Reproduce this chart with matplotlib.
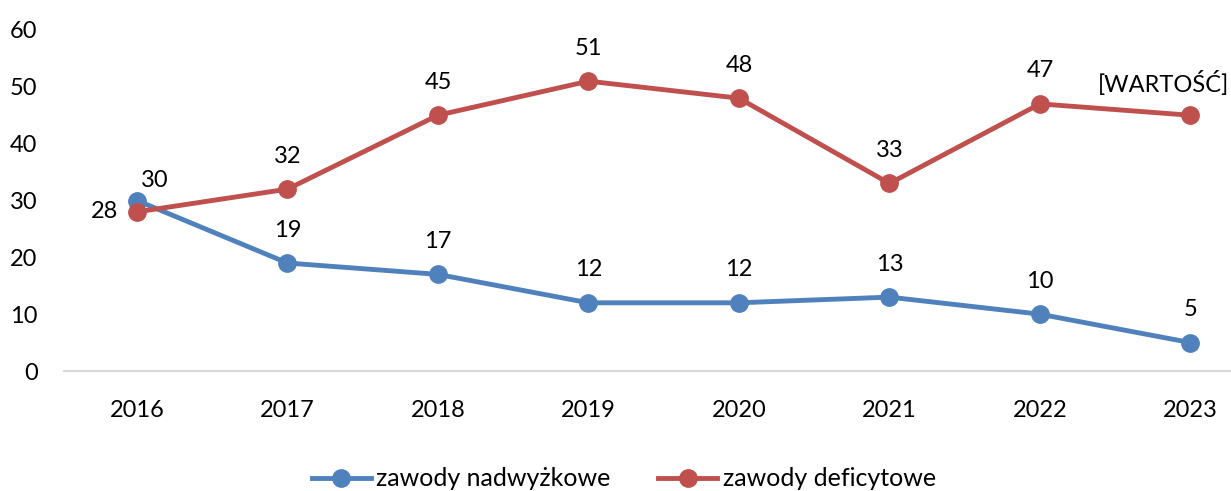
import matplotlib
matplotlib.use("Agg")
import matplotlib.pyplot as plt

years = ["2016", "2017", "2018", "2019", "2020", "2021", "2022", "2023"]
nadwyzkowe = [30, 19, 17, 12, 12, 13, 10, 5]
deficytowe = [28, 32, 45, 51, 48, 33, 47, 45]
def_labels = ["28", "32", "45", "51", "48", "33", "47", "[WARTOŚĆ]"]
nad_labels = [str(v) for v in nadwyzkowe]
yticks = [0, 10, 20, 30, 40, 50, 60]

BLUE = "#4F81BD"
RED = "#C0504D"
FS = 17
LFS = 18

plt.rcParams['font.family'] = ['Lato', 'DejaVu Sans']

fig = plt.figure(figsize=(12.31, 4.91), dpi=100)
ax = fig.add_axes([64/1231, 1 - 371/491, 1 - 64/1231, (371 - 30)/491])

x = list(range(len(years)))
l1, = ax.plot(x, nadwyzkowe, color=BLUE, lw=3.5, marker='o', ms=12.5, clip_on=False,
              label="zawody nadwyżkowe", zorder=3)
l2, = ax.plot(x, deficytowe, color=RED, lw=3.5, marker='o', ms=12.5, clip_on=False,
              label="zawody deficytowe", zorder=3)

for i, (v, t) in enumerate(zip(nadwyzkowe, nad_labels)):
    if i == 0:
        off = (18, 20)
    else:
        off = (0, 33)
    ax.annotate(t, (i, v), xytext=off, textcoords='offset pixels',
                ha='center', va='center', fontsize=FS, color='black')
for i, (v, t) in enumerate(zip(deficytowe, def_labels)):
    if i == 0:
        off = (-32, 0)
    elif i == len(deficytowe) - 1:
        off = (-27, 32)
    else:
        off = (0, 33)
    ax.annotate(t, (i, v), xytext=off, textcoords='offset pixels',
                ha='center', va='center', fontsize=FS, color='black')

ax.set_xlim(-0.485, 7.27)
ax.set_ylim(0, 60)
ax.set_yticks(yticks)
ax.set_yticklabels([str(t) for t in yticks], fontsize=FS)
ax.set_xticks(x)
ax.set_xticklabels(years, fontsize=FS)
for s in ['top', 'right', 'left']:
    ax.spines[s].set_visible(False)
ax.spines['bottom'].set_color('#D9D9D9')
ax.spines['bottom'].set_linewidth(1.5)
ax.tick_params(axis='both', length=0)
ax.tick_params(axis='y', pad=19)
ax.tick_params(axis='x', pad=21)
ax.patch.set_alpha(0)

fig.legend(handles=[l1, l2], loc='center', bbox_to_anchor=(624/1231, 1 - 479/491),
           ncol=2, frameon=False, fontsize=LFS, handlelength=2.36, handletextpad=0.24,
           columnspacing=1.9, borderpad=0)

fig.savefig("out.png", dpi=100)
